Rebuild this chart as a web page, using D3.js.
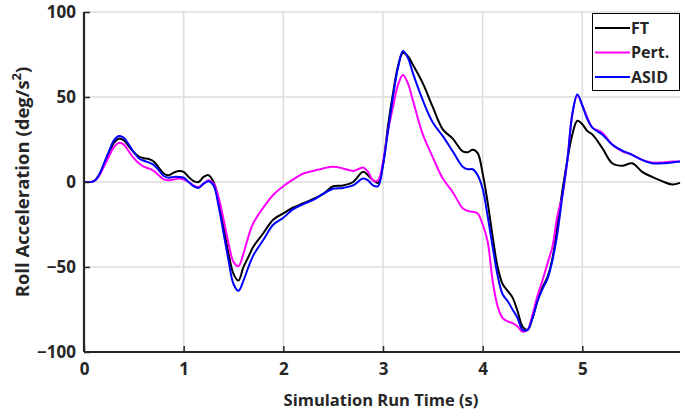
<!DOCTYPE html>
<html>
<head>
<meta charset="utf-8">
<script src="https://cdn.jsdelivr.net/npm/d3@7"></script>
<style>
  body { margin: 0; background: #fff; }
  svg { display: block; }
  text { font-family: "Open Sans", "Liberation Sans", sans-serif; font-weight: 700; fill: #262626; }
</style>
</head>
<body>
<svg id="chart" width="685" height="416"></svg>
<script>
// ---- data ----
const time = [0, 0.1, 0.15, 0.2, 0.25, 0.3, 0.35, 0.4, 0.45, 0.5, 0.55, 0.6, 0.65, 0.7, 0.75, 0.8, 0.85, 0.9, 0.95, 1.0,
  1.05, 1.1, 1.15, 1.2, 1.25, 1.3, 1.35, 1.4, 1.45, 1.5, 1.55, 1.6, 1.65, 1.7, 1.8, 1.9, 2.0, 2.1, 2.2, 2.3,
  2.4, 2.5, 2.6, 2.7, 2.8, 2.85, 2.9, 2.95, 3.0, 3.05, 3.1, 3.15, 3.2, 3.25, 3.3, 3.4, 3.5, 3.6, 3.7, 3.8,
  3.85, 3.9, 3.95, 4.0, 4.05, 4.1, 4.15, 4.2, 4.25, 4.3, 4.35, 4.4, 4.45, 4.5, 4.55, 4.6, 4.65, 4.7, 4.75, 4.8,
  4.85, 4.9, 4.95, 5.0, 5.05, 5.1, 5.2, 5.3, 5.4, 5.5, 5.6, 5.7, 5.8, 5.9, 5.98];

const ft = [0, 0.5, 4, 10, 17, 23, 25.5, 24.5, 21, 17.5, 15, 14, 13.5, 12, 8.5, 5, 4, 5.5, 6.5, 6,
  3, 0.5, 0, 3, 4, 0, -10, -26, -42, -54, -58, -50, -44, -38, -30, -22, -18.5, -15, -12.5, -10,
  -7, -2.5, -2, 0, 6, 4, 1, -0.5, 10, 33, 52, 68, 76, 74, 69, 58, 44, 31, 25.5, 18,
  17.5, 19, 17, 5, -12, -32, -50, -60, -64, -68, -76, -85, -87, -80, -70, -62, -56, -45, -25, -5,
  13, 28, 36, 34, 30, 28, 20, 11, 9.5, 11, 6, 3, 0.5, -1.5, -0.5];

const pert = [0, 0.5, 3.5, 9, 15, 20.5, 23, 22, 18, 14, 11, 9, 8, 6.5, 4, 1.5, 1, 1.5, 2, 1.5,
  0, -2, -3, -1, 1, -1, -9, -22, -36, -47, -49.5, -42, -32, -24, -15, -7.5, -2.5, 1.5, 5, 6.5,
  8, 9, 8, 6.5, 8.5, 6, 1, 1, 12, 30, 44, 57, 63, 58, 48, 28, 14.5, 2, -6, -15.5,
  -17, -17.5, -18.5, -25, -35, -58, -73, -80, -82, -83, -85, -88, -87, -78, -67, -58, -48, -38, -20, -8,
  13, 40, 51, 45, 38, 32, 29, 22, 18, 16, 13, 11.5, 11.5, 12, 12];

const asid = [0, 0.5, 4, 11, 18, 24.5, 27, 26, 22, 17.5, 14, 12.5, 11.5, 10, 7, 3.5, 2.5, 3, 3, 2.5,
  0, -2.5, -3.5, -1, 0.5, -2, -14, -30, -46, -60, -64, -58, -50, -43, -34, -25, -21, -16, -13, -10.5,
  -7, -4, -3.5, -2, 2, 1, -2, -2.5, 10, 30, 50, 67, 77, 73, 64, 48, 35, 27, 18, 9,
  7.5, 7.5, 4, -4, -20, -38, -55, -66, -70, -75, -80, -87, -87, -80, -70, -63, -57, -46, -30, -8,
  13, 40, 51.5, 45, 37, 32, 28, 22, 18.5, 16, 13, 11, 11, 11.5, 12];

const xTicks = [0, 1, 2, 3, 4, 5];
const yTicks = [-100, -50, 0, 50, 100];
const seriesNames = ["FT", "Pert.", "ASID"];
const seriesColors = ["#000000", "#ff00ff", "#0000ff"];

// ---- chart ----
const svg = d3.select("#chart");
const L = 84, R = 680, T = 12, B = 352;
const x = d3.scaleLinear().domain([0, 5.98]).range([L, R]);
const y = d3.scaleLinear().domain([-100, 100]).range([B, T]);

// grid
const grid = svg.append("g");
grid.selectAll("line.vx").data(xTicks.filter(d => d > 0)).join("line")
  .attr("x1", d => x(d)).attr("x2", d => x(d)).attr("y1", T).attr("y2", B)
  .attr("stroke", "#dcdcdc").attr("stroke-width", 1.5);
grid.selectAll("line.hy").data(yTicks.filter(d => d > -100)).join("line")
  .attr("x1", L).attr("x2", R).attr("y1", d => y(d)).attr("y2", d => y(d))
  .attr("stroke", "#dcdcdc").attr("stroke-width", 1.5);

// series
const allSeries = [ft, pert, asid];
const line = d3.line().x((d, i) => x(time[i])).y(d => y(d)).curve(d3.curveCatmullRom.alpha(0.5));
allSeries.forEach((s, k) => {
  svg.append("path").datum(s).attr("d", line)
    .attr("fill", "none").attr("stroke", seriesColors[k]).attr("stroke-width", 2)
    .attr("stroke-linejoin", "round");
});

// axes
const xAxis = d3.axisBottom(x).tickValues(xTicks).tickSize(-6).tickPadding(11).tickFormat(d3.format("d"));
const yAxis = d3.axisLeft(y).tickValues(yTicks).tickSize(-6).tickPadding(8).tickFormat(d3.format("d"));
const gx = svg.append("g").attr("transform", `translate(0,${B})`).call(xAxis);
const gy = svg.append("g").attr("transform", `translate(${L},0)`).call(yAxis);
[gx, gy].forEach(g => {
  g.select(".domain").attr("stroke", "#262626").attr("stroke-width", 2.2);
  g.selectAll(".tick line").attr("stroke", "#262626").attr("stroke-width", 1.5);
  g.selectAll(".tick text").attr("font-size", 17).attr("font-family", "'Open Sans', sans-serif")
    .attr("font-weight", 700).attr("fill", "#262626");
});
gx.select(".domain").attr("d", `M${L},0H${R}`);
gy.select(".domain").attr("d", `M0,${B}V${T}`);
gx.selectAll(".tick text").attr("dy", "0.71em");

// axis titles
svg.append("text").attr("x", (L + R) / 2 - 1).attr("y", 406).attr("text-anchor", "middle")
  .attr("font-size", 16.5).text("Simulation Run Time (s)");
const yt = svg.append("text").attr("transform", `translate(29,${(T + B) / 2}) rotate(-90)`)
  .attr("text-anchor", "middle").attr("font-size", 18.5);
yt.append("tspan").text("Roll Acceleration (deg/s");
yt.append("tspan").attr("dy", -8).attr("font-size", 13).text("2");
yt.append("tspan").attr("dy", 8).text(")");

// legend
const lg = svg.append("g");
lg.append("rect").attr("x", 592.5).attr("y", 13.5).attr("width", 87).attr("height", 77)
  .attr("fill", "#fff").attr("stroke", "#000").attr("stroke-width", 1);
seriesNames.forEach((n, k) => {
  const yy = 28 + k * 24.5;
  lg.append("line").attr("x1", 595).attr("x2", 630).attr("y1", yy).attr("y2", yy)
    .attr("stroke", seriesColors[k]).attr("stroke-width", 2);
  lg.append("text").attr("x", 631).attr("y", yy).attr("dy", "0.36em").attr("font-size", 16)
    .attr("fill", "#000").text(n);
});
</script>
</body>
</html>
